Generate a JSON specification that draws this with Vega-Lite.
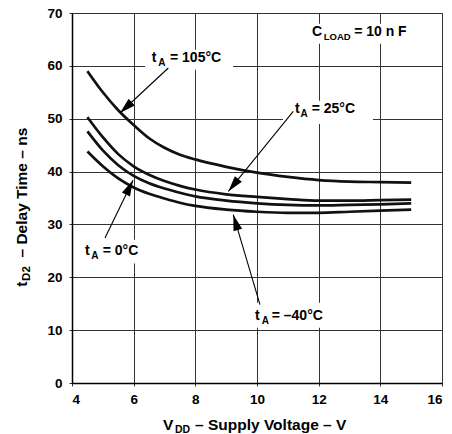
{
  "$schema": "https://vega.github.io/schema/vega-lite/v6.json",
  "width": 370,
  "height": 370,
  "autosize": {"type": "none"},
  "padding": {"left": 72, "top": 13, "right": 10, "bottom": 51},
  "background": "white",
  "config": {
    "view": {"stroke": "#222", "strokeWidth": 1},
    "axis": {
      "labelFont": "Liberation Sans", "labelFontWeight": "bold", "labelFontSize": 13.5, "labelColor": "#000",
      "grid": true, "gridColor": "#333", "gridWidth": 1, "gridOpacity": 1,
      "domainColor": "#000", "domainWidth": 1.5, "tickColor": "#333", "tickSize": 3, "title": null
    },
    "text": {"font": "Liberation Sans", "fontWeight": "bold", "color": "#000"}
  },
  "datasets": {
    "curves": [
      {"v": 4.5, "t": 59.0, "s": "105"}, {"v": 5, "t": 55.0, "s": "105"}, {"v": 5.5, "t": 51.6, "s": "105"}, {"v": 6, "t": 48.8, "s": "105"}, {"v": 6.5, "t": 46.3, "s": "105"}, {"v": 7, "t": 44.5, "s": "105"}, {"v": 7.5, "t": 43.2, "s": "105"}, {"v": 8, "t": 42.3, "s": "105"}, {"v": 9, "t": 40.9, "s": "105"}, {"v": 10, "t": 39.8, "s": "105"}, {"v": 11, "t": 39.0, "s": "105"}, {"v": 12, "t": 38.4, "s": "105"}, {"v": 13, "t": 38.1, "s": "105"}, {"v": 14, "t": 38.0, "s": "105"}, {"v": 15, "t": 37.9, "s": "105"},
      {"v": 4.5, "t": 50.3, "s": "25"}, {"v": 5, "t": 46.5, "s": "25"}, {"v": 5.5, "t": 43.3, "s": "25"}, {"v": 6, "t": 41.0, "s": "25"}, {"v": 6.5, "t": 39.4, "s": "25"}, {"v": 7, "t": 38.2, "s": "25"}, {"v": 7.5, "t": 37.3, "s": "25"}, {"v": 8, "t": 36.6, "s": "25"}, {"v": 9, "t": 35.7, "s": "25"}, {"v": 10, "t": 35.2, "s": "25"}, {"v": 11, "t": 34.8, "s": "25"}, {"v": 12, "t": 34.5, "s": "25"}, {"v": 13, "t": 34.5, "s": "25"}, {"v": 14, "t": 34.6, "s": "25"}, {"v": 15, "t": 34.7, "s": "25"},
      {"v": 4.5, "t": 47.6, "s": "0"}, {"v": 5, "t": 44.0, "s": "0"}, {"v": 5.5, "t": 41.2, "s": "0"}, {"v": 6, "t": 39.2, "s": "0"}, {"v": 6.5, "t": 37.8, "s": "0"}, {"v": 7, "t": 36.8, "s": "0"}, {"v": 7.5, "t": 36.0, "s": "0"}, {"v": 8, "t": 35.3, "s": "0"}, {"v": 9, "t": 34.5, "s": "0"}, {"v": 10, "t": 34.0, "s": "0"}, {"v": 11, "t": 33.7, "s": "0"}, {"v": 12, "t": 33.6, "s": "0"}, {"v": 13, "t": 33.7, "s": "0"}, {"v": 14, "t": 33.8, "s": "0"}, {"v": 15, "t": 34.0, "s": "0"},
      {"v": 4.5, "t": 43.8, "s": "-40"}, {"v": 5, "t": 41.0, "s": "-40"}, {"v": 5.5, "t": 38.7, "s": "-40"}, {"v": 6, "t": 37.0, "s": "-40"}, {"v": 6.5, "t": 35.8, "s": "-40"}, {"v": 7, "t": 34.9, "s": "-40"}, {"v": 7.5, "t": 34.1, "s": "-40"}, {"v": 8, "t": 33.5, "s": "-40"}, {"v": 9, "t": 32.8, "s": "-40"}, {"v": 10, "t": 32.4, "s": "-40"}, {"v": 11, "t": 32.2, "s": "-40"}, {"v": 12, "t": 32.2, "s": "-40"}, {"v": 13, "t": 32.4, "s": "-40"}, {"v": 14, "t": 32.6, "s": "-40"}, {"v": 15, "t": 32.8, "s": "-40"}
    ],
    "bg": [
      {"v": 6.368, "v2": 9.222, "t": 59.27, "t2": 63.05},
      {"v": 10.843, "v2": 13.762, "t": 49.0, "t2": 53.4},
      {"v": 4.26, "v2": 6.37, "t": 22.6, "t2": 27.1},
      {"v": 9.773, "v2": 12.368, "t": 10.47, "t2": 15.19},
      {"v": 11.62, "v2": 15.351, "t": 64.19, "t2": 67.97}
    ],
    "shafts": [
      {"v": 7.123, "t": 59.59, "v2": 5.557, "t2": 51.08},
      {"v": 11.177, "t": 51.38, "v2": 9.069, "t2": 36.25},
      {"v": 5.070, "t": 27.43, "v2": 5.978, "t2": 38.37},
      {"v": 10.097, "t": 14.81, "v2": 9.231, "t2": 31.84}
    ],
    "main": [
      {"v": 6.585, "t": 60.65, "s": "t"}, {"v": 7.178, "t": 60.65, "s": "= 105°C"},
      {"v": 11.232, "t": 51.08, "s": "t"}, {"v": 11.774, "t": 51.08, "s": "= 25°C"},
      {"v": 4.422, "t": 24.27, "s": "t"}, {"v": 4.996, "t": 24.27, "s": "= 0°C"},
      {"v": 9.935, "t": 11.98, "s": "t"}, {"v": 10.477, "t": 11.98, "s": "= –40°C"},
      {"v": 11.784, "t": 65.57, "s": "C"}, {"v": 13.15, "t": 65.57, "s": "= 10  n  F"}
    ],
    "sub": [
      {"v": 6.799, "t": 59.9, "s": "A"},
      {"v": 11.411, "t": 50.32, "s": "A"},
      {"v": 4.623, "t": 23.46, "s": "A"},
      {"v": 10.153, "t": 11.22, "s": "A"}
    ],
    "subload": [
      {"v": 12.165, "t": 64.95, "s": "LOAD"}
    ],
    "xmain": [
      {"v": 6.951, "t": -8.83, "s": "V"}, {"v": 7.99, "t": -8.83, "s": "–  Supply Voltage – V"}
    ],
    "xsub": [
      {"v": 7.341, "t": -9.5, "s": "DD"}
    ],
    "ymain": [
      {"v": 2.5405, "t": 18.22, "s": "t"},
      {"v": 2.5405, "t": 23.74, "s": "– Delay Time – ns"}
    ],
    "ysub": [
      {"v": 2.654, "t": 19.32, "s": "D2"}
    ]
  },
  "layer": [
    {
      "data": {"name": "bg"},
      "mark": {"type": "rect", "color": "white", "opacity": 1},
      "encoding": {
        "x": {"field": "v", "type": "quantitative", "scale": {"domain": [4, 16], "nice": false, "zero": false}, "axis": {"values": [4, 6, 8, 10, 12, 14, 16], "labelPadding": 6}},
        "x2": {"field": "v2"},
        "y": {"field": "t", "type": "quantitative", "scale": {"domain": [0, 70], "nice": false}, "axis": {"values": [0, 10, 20, 30, 40, 50, 60, 70], "labelPadding": 7}},
        "y2": {"field": "t2"}
      }
    },
    {
      "data": {"name": "curves"},
      "mark": {"type": "line", "interpolate": "monotone", "strokeWidth": 2.7, "color": "#111"},
      "encoding": {
        "x": {"field": "v", "type": "quantitative"},
        "y": {"field": "t", "type": "quantitative"},
        "detail": {"field": "s", "type": "nominal"}
      }
    },
    {
      "data": {"name": "shafts"},
      "mark": {"type": "rule", "strokeWidth": 1.1, "color": "#000"},
      "encoding": {
        "x": {"field": "v", "type": "quantitative"},
        "y": {"field": "t", "type": "quantitative"},
        "x2": {"field": "v2"},
        "y2": {"field": "t2"}
      }
    },
    {
      "data": {"values": [{"v": 5.557, "t": 51.08}]},
      "mark": {"type": "point", "shape": "M0,0L0.9,3.2L-0.9,3.2Z", "filled": true, "size": 100, "opacity": 1, "color": "#000", "strokeWidth": 0, "angle": 227},
      "encoding": {"x": {"field": "v", "type": "quantitative"}, "y": {"field": "t", "type": "quantitative"}}
    },
    {
      "data": {"values": [{"v": 9.069, "t": 36.25}]},
      "mark": {"type": "point", "shape": "M0,0L0.9,3.2L-0.9,3.2Z", "filled": true, "size": 100, "opacity": 1, "color": "#000", "strokeWidth": 0, "angle": 219},
      "encoding": {"x": {"field": "v", "type": "quantitative"}, "y": {"field": "t", "type": "quantitative"}}
    },
    {
      "data": {"values": [{"v": 5.978, "t": 38.37}]},
      "mark": {"type": "point", "shape": "M0,0L0.9,3.2L-0.9,3.2Z", "filled": true, "size": 100, "opacity": 1, "color": "#000", "strokeWidth": 0, "angle": 26},
      "encoding": {"x": {"field": "v", "type": "quantitative"}, "y": {"field": "t", "type": "quantitative"}}
    },
    {
      "data": {"values": [{"v": 9.231, "t": 31.84}]},
      "mark": {"type": "point", "shape": "M0,0L0.9,3.2L-0.9,3.2Z", "filled": true, "size": 100, "opacity": 1, "color": "#000", "strokeWidth": 0, "angle": 343.5},
      "encoding": {"x": {"field": "v", "type": "quantitative"}, "y": {"field": "t", "type": "quantitative"}}
    },
    {
      "data": {"name": "main"},
      "mark": {"type": "text", "align": "left", "baseline": "alphabetic", "fontSize": 14},
      "encoding": {"x": {"field": "v", "type": "quantitative"}, "y": {"field": "t", "type": "quantitative"}, "text": {"field": "s"}}
    },
    {
      "data": {"name": "sub"},
      "mark": {"type": "text", "align": "left", "baseline": "alphabetic", "fontSize": 10},
      "encoding": {"x": {"field": "v", "type": "quantitative"}, "y": {"field": "t", "type": "quantitative"}, "text": {"field": "s"}}
    },
    {
      "data": {"name": "subload"},
      "mark": {"type": "text", "align": "left", "baseline": "alphabetic", "fontSize": 9.5},
      "encoding": {"x": {"field": "v", "type": "quantitative"}, "y": {"field": "t", "type": "quantitative"}, "text": {"field": "s"}}
    },
    {
      "data": {"name": "xmain"},
      "mark": {"type": "text", "align": "left", "baseline": "alphabetic", "fontSize": 15.5},
      "encoding": {"x": {"field": "v", "type": "quantitative"}, "y": {"field": "t", "type": "quantitative"}, "text": {"field": "s"}}
    },
    {
      "data": {"name": "xsub"},
      "mark": {"type": "text", "align": "left", "baseline": "alphabetic", "fontSize": 10.5},
      "encoding": {"x": {"field": "v", "type": "quantitative"}, "y": {"field": "t", "type": "quantitative"}, "text": {"field": "s"}}
    },
    {
      "data": {"name": "ymain"},
      "mark": {"type": "text", "align": "left", "baseline": "alphabetic", "fontSize": 15.5, "angle": 270},
      "encoding": {"x": {"field": "v", "type": "quantitative"}, "y": {"field": "t", "type": "quantitative"}, "text": {"field": "s"}}
    },
    {
      "data": {"name": "ysub"},
      "mark": {"type": "text", "align": "left", "baseline": "alphabetic", "fontSize": 11.5, "angle": 270},
      "encoding": {"x": {"field": "v", "type": "quantitative"}, "y": {"field": "t", "type": "quantitative"}, "text": {"field": "s"}}
    }
  ]
}
